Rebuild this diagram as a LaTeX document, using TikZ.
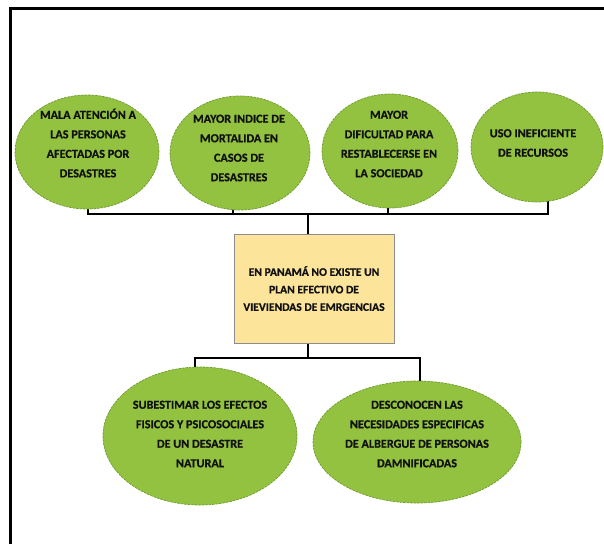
\documentclass[tikz,border=0pt]{standalone}
\usepackage{fontspec}
\setmainfont{Carlito}[BoldFeatures={FakeBold=0.6}]
\usetikzlibrary{shapes.geometric,backgrounds}
\definecolor{leaf}{HTML}{92C23F}
\definecolor{leafedge}{HTML}{6F9A30}
\definecolor{sand}{HTML}{FCE59B}
\definecolor{ink}{HTML}{111111}
\begin{document}
\begin{tikzpicture}[x=1pt,y=-1pt,
  bubble/.style={ellipse, fill=leaf, draw=leafedge, line width=0.7pt,
    dash pattern=on 2.5pt off 1pt, inner sep=0pt},
  txt/.style={align=center, text=ink, inner sep=0pt,
    font=\bfseries\fontsize{12.2}{19.5}\selectfont},
  plan/.style={rectangle, fill=sand, draw=black!45, line width=0.8pt,
    minimum width=160pt, minimum height=109pt, align=center, text=ink,
    font=\bfseries\fontsize{11.6}{17.5}\selectfont},
  conn/.style={draw=black, line width=2.3pt, line join=miter},
  frame/.style={draw=black, line width=2.6pt}]
\useasboundingbox (0,0) rectangle (604,544);
\draw[frame] (10.5,544) -- (10.5,8.3) -- (604,8.3);

% top ellipses
\node[bubble, minimum width=144pt, minimum height=114pt] (e1) at (87,152) {};
\node[bubble, minimum width=140pt, minimum height=114pt] (e2) at (240,153) {};
\node[bubble, minimum width=136pt, minimum height=114pt] (e3) at (390,151) {};
\node[bubble, minimum width=132pt, minimum height=110pt] (e4) at (537,147) {};
\node[txt] (e1t) at (88,143) {MALA ATENCIÓN A\\LAS PERSONAS\\AFECTADAS POR\\DESASTRES};
\node[txt] (e2t) at (239,148) {MAYOR INDICE DE\\MORTALIDA EN\\CASOS DE\\DESASTRES};
\node[txt] (e3t) at (389,144) {MAYOR\\DIFICULTAD PARA\\RESTABLECERSE EN\\LA SOCIEDAD};
\node[txt] (e4t) at (533,143) {USO INEFICIENTE\\DE RECURSOS};

% central box
\node[plan] (box) at (314,288.5) {EN PANAMÁ NO EXISTE UN\\PLAN EFECTIVO DE\\VIEVIENDAS DE EMRGENCIAS};

% bottom ellipses
\node[bubble, minimum width=194pt, minimum height=138pt] (e5) at (200,436) {};
\node[bubble, minimum width=208pt, minimum height=122pt] (e6) at (417,442) {};
\node[txt] (e5t) at (200,434) {SUBESTIMAR LOS EFECTOS\\FISICOS Y PSICOSOCIALES\\DE UN DESASTRE\\NATURAL};
\node[txt] (e6t) at (417,434) {DESCONOCEN LAS\\NECESIDADES ESPECIFICAS\\DE ALBERGUE DE PERSONAS\\DAMNIFICADAS};

% connectors
\coordinate (t1) at (88,214);
\coordinate (t2) at (233,214);
\coordinate (t3) at (388,214);
\coordinate (t4) at (548,214);
\coordinate (tc) at (308,214);
\coordinate (bc) at (308,358);
\coordinate (b5) at (195,358);
\coordinate (b6) at (420,358);
\begin{scope}[on background layer]
  \draw[conn] (t1 |- e1.center) -- (t1) -- (t4) -- (t4 |- e4.center);
  \draw[conn] (t2 |- e2.center) -- (t2);
  \draw[conn] (t3 |- e3.center) -- (t3);
  \draw[conn] (tc) -- (tc |- box.center);
  \draw[conn] (bc |- box.center) -- (bc);
  \draw[conn] (b5 |- e5.center) -- (b5) -- (b6) -- (b6 |- e6.center);
\end{scope}
\end{tikzpicture}
\end{document}
